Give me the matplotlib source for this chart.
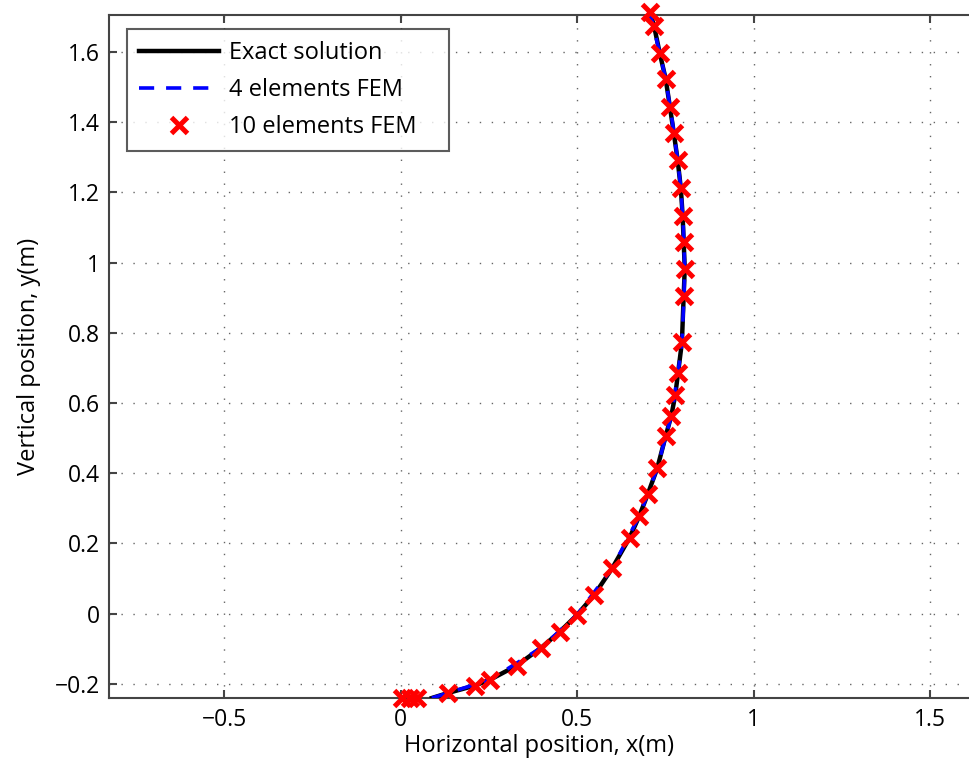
import numpy as np
import matplotlib
matplotlib.use("Agg")
import matplotlib.pyplot as plt

plt.rcParams['font.family'] = ['Open Sans', 'DejaVu Sans']

# Exact solution of the deflected shape
exact_x = [0.088, 0.133, 0.209, 0.253, 0.328, 0.398, 0.450, 0.500, 0.548, 0.599,
           0.649, 0.676, 0.700, 0.727, 0.751, 0.767, 0.778, 0.786, 0.797, 0.802,
           0.805, 0.802, 0.799, 0.794, 0.785, 0.774, 0.763, 0.751, 0.734, 0.718, 0.706]
exact_y = [-0.240, -0.226, -0.205, -0.188, -0.148, -0.097, -0.052, -0.003, 0.053, 0.129,
           0.217, 0.278, 0.340, 0.414, 0.506, 0.564, 0.622, 0.685, 0.773, 0.906,
           0.983, 1.060, 1.134, 1.211, 1.291, 1.369, 1.443, 1.523, 1.597, 1.674, 1.714]

# 4 element FEM solution
fem4_x = [0.088, 0.133, 0.253, 0.398, 0.500, 0.599, 0.676, 0.727, 0.767, 0.786,
          0.797, 0.803, 0.805, 0.801, 0.794, 0.785, 0.770, 0.751, 0.734, 0.706]
fem4_y = [-0.240, -0.226, -0.188, -0.097, -0.003, 0.129, 0.278, 0.414, 0.564, 0.685,
          0.773, 0.906, 0.983, 1.100, 1.211, 1.291, 1.400, 1.523, 1.597, 1.714]

# 10 element FEM nodes
fem10_x = [0.003, 0.025, 0.047, 0.133, 0.209, 0.253, 0.328, 0.398, 0.450, 0.500,
           0.548, 0.599, 0.649, 0.676, 0.700, 0.727, 0.751, 0.767, 0.778, 0.786,
           0.797, 0.802, 0.805, 0.802, 0.799, 0.794, 0.785, 0.774, 0.763, 0.751,
           0.734, 0.718, 0.706]
fem10_y = [-0.240, -0.240, -0.240, -0.226, -0.205, -0.188, -0.148, -0.097, -0.052, -0.003,
           0.053, 0.129, 0.217, 0.278, 0.340, 0.414, 0.506, 0.564, 0.622, 0.685,
           0.773, 0.906, 0.983, 1.060, 1.134, 1.211, 1.291, 1.369, 1.443, 1.523,
           1.597, 1.674, 1.714]

x_ticks = [-0.5, 0, 0.5, 1, 1.5]
y_ticks = [-0.2, 0, 0.2, 0.4, 0.6, 0.8, 1, 1.2, 1.4, 1.6]

fig = plt.figure(figsize=(9.69, 7.71), dpi=100)
ax = fig.add_axes([0.113, 0.0947, 0.887, 0.8858])

ax.plot(exact_x, exact_y, color='black', lw=3.2, label='Exact solution', zorder=3)
ax.plot(fem4_x, fem4_y, color='blue', lw=2.6, ls=(0, (4.2, 3.3)),
        label='4 elements FEM', zorder=4)
ax.plot(fem10_x, fem10_y, ls='none', marker='x', ms=11.5, mew=3.6, color='red',
        label='10 elements FEM', zorder=5, clip_on=False)

ax.set_xlim(-0.826, 1.611)
ax.set_ylim(-0.24, 1.705)
ax.set_xticks(x_ticks)
ax.set_yticks(y_ticks)
ax.set_xticklabels(['\u22120.5', '0', '0.5', '1', '1.5'])
ax.set_yticklabels(['\u22120.2', '0', '0.2', '0.4', '0.6', '0.8', '1', '1.2', '1.4', '1.6'])

ax.grid(True, color='#666666', ls=(0, (1, 7.6)), lw=1.0)
for side in ['left', 'bottom', 'top']:
    ax.spines[side].set_color('#444444')
    ax.spines[side].set_linewidth(1.5)
ax.spines['right'].set_visible(False)
ax.tick_params(direction='in', length=6, width=1.5, color='#444444',
               labelsize=16.5, pad=7, top=True, right=False)

ax.set_xlabel('Horizontal position, x(m)', fontsize=17, labelpad=2)
ax.set_ylabel('Vertical position, y(m)', fontsize=17, labelpad=10)

# legend box stretched to a fixed width, MATLAB style
leg = ax.legend(loc='upper left', fontsize=17, frameon=True, fancybox=False,
                edgecolor='#333333', handlelength=3.4, handletextpad=0.4,
                borderpad=0.5, labelspacing=0.55, mode='expand', borderaxespad=0,
                bbox_to_anchor=(0.0204, 0.5, 0.375, 0.4795))
leg.get_frame().set_linewidth(1.5)

fig.savefig('out.png', dpi=100)
